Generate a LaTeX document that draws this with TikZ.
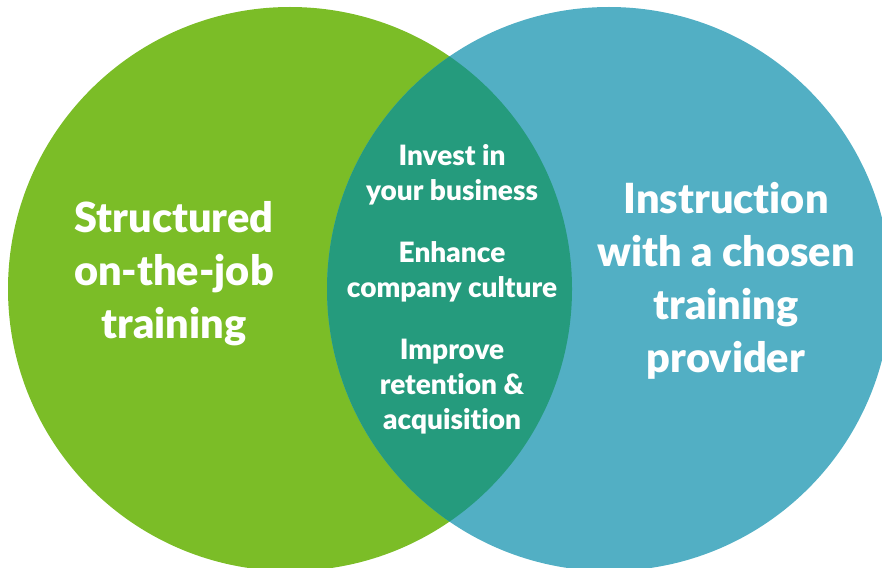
\documentclass[tikz,border=0pt]{standalone}
\usepackage{fontspec}
\setmainfont{Lato}[BoldFont={Lato Black},Ligatures={NoCommon}]
\usetikzlibrary{positioning}

\definecolor{jobgreen}{RGB}{123,189,39}
\definecolor{provblue}{RGB}{82,175,196}
\definecolor{overlapteal}{RGB}{37,155,125}

\begin{document}
\begin{tikzpicture}[x=1pt,y=-1pt,
    bigtext/.style={text=white,inner sep=0,align=center,
                    font=\fontsize{41.5}{53}\selectfont\bfseries},
    midtext/.style={text=white,inner sep=0,align=center,
                    font=\fontsize{28}{35}\selectfont\bfseries},
    node distance=36pt]
    \useasboundingbox (0,0) rectangle (882,567);
    \clip (0,0) rectangle (882,567);
    % the two circles
    \fill [jobgreen] (290,289) circle [radius=282];
    \fill [provblue] (609,289) circle [radius=282];
    % the overlap
    \begin{scope}
        \clip (290,289) circle [radius=282];
        \fill [overlapteal] (609,289) circle [radius=282];
    \end{scope}

    \node [bigtext] (onjob) at (174,274) {Structured\\on-the-job\\training};
    \node [bigtext] (provider) at (726,281)
          {Instruction\\with a chosen\\training\\provider};

    \node [midtext] (invest) at (452,175) {Invest in\\your business};
    \node [midtext,below=of invest] (culture) {Enhance\\company culture};
    \node [midtext,below=of culture] (retain)
          {Improve\\retention \&\\acquisition};
\end{tikzpicture}
\end{document}
